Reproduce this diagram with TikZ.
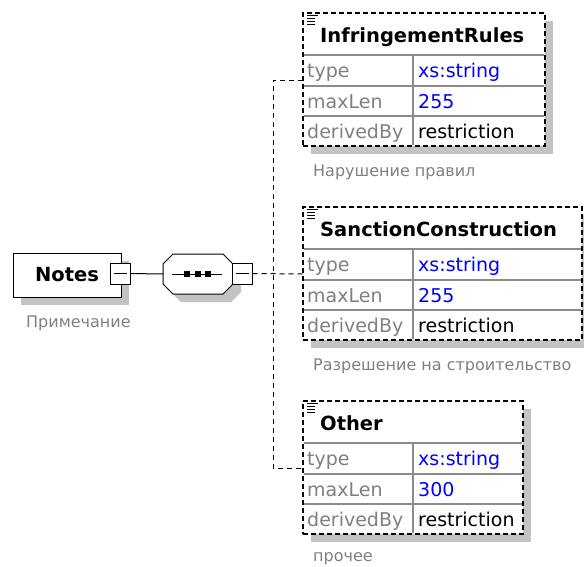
\documentclass[tikz,border=0pt]{standalone}
\usepackage{fontspec}
\setmainfont{DejaVu Sans}
\usepackage{xcolor}
\definecolor{grisTexto}{RGB}{128,128,128}
\definecolor{grisLinea}{RGB}{140,140,140}
\definecolor{grisSombra}{RGB}{195,195,195}
\definecolor{azulTipo}{RGB}{0,0,255}
\usepackage{tikz}
\usetikzlibrary{positioning}

\begin{document}
\begin{tikzpicture}[
  x=1pt, y=-1pt,
  raiz/.style={rectangle, draw=black, line width=1pt, fill=white, inner sep=0pt,
               minimum width=108pt, minimum height=44pt,
               font=\fontsize{19.5}{20}\selectfont\bfseries},
  elemento/.style={rectangle, draw=black, line width=1.1pt, dash pattern=on 5pt off 3pt,
                   fill=white, inner sep=0pt, outer sep=0pt, anchor=north west,
                   minimum height=133pt},
  secuencia/.style={rectangle, inner sep=0pt, minimum width=70pt, minimum height=40pt},
  octogono/.style={draw=black, line width=1pt, fill=white},
  menos/.style={rectangle, draw=black, line width=1pt, fill=white, inner sep=0pt,
                minimum width=20pt, minimum height=21pt},
  punto/.style={rectangle, fill=black, inner sep=0pt, minimum size=6pt},
  cabecera/.style={anchor=base west, inner sep=0pt,
                   font=\fontsize{19.5}{20}\selectfont\bfseries},
  clave/.style={anchor=base west, inner sep=0pt, text=grisTexto,
                font=\fontsize{19}{20}\selectfont},
  valor/.style={clave, text=azulTipo},
  valorN/.style={clave, text=black},
  nota/.style={anchor=base west, inner sep=0pt, text=grisTexto,
               font=\fontsize{16}{18}\selectfont},
  rejilla/.style={draw=grisLinea, line width=1.2pt},
  icono/.style={line width=1pt},
  sombra/.style={fill=grisSombra},
  enlace/.style={line width=1pt},
  conector/.style={line width=1pt, dash pattern=on 5pt off 4pt}
]
  \useasboundingbox (0,0) rectangle (584,566);

  % Elemento raiz
  \fill[sombra] (21,261) rectangle (129,305);
  \node[raiz] (notes) at (67,275) {Notes};
  \node[menos] (nm) at (120.5,273.5) {};
  \draw[enlace] ([xshift=4pt]nm.west) -- ([xshift=-4pt]nm.east);
  \node[nota] (notes-n) at (26,327) {Примечание};

  % Secuencia
  \fill[sombra] (181,262) -- (231,262) -- (241,272) -- (241,292) -- (231,302)
               -- (181,302) -- (171,292) -- (171,272) -- cycle;
  \node[secuencia] (seq) at (198,274) {};
  \draw[octogono] (173,254) -- (223,254) -- (233,264) -- (233,284) -- (223,294)
                 -- (173,294) -- (163,284) -- (163,264) -- cycle;
  \draw[enlace] ([xshift=9pt]seq.west) -- ([xshift=-11pt]seq.east);
  \node[punto] (p1) at (187,274) {};
  \node[punto] (p2) at (197.5,274) {};
  \node[punto] (p3) at (208,274) {};
  \node[menos] (sm) at (242,273.5) {};
  \draw[enlace] ([xshift=4pt]sm.west) -- ([xshift=-4pt]sm.east);
  \draw[enlace] (nm.east) -- (seq.west);

  % InfringementRules
  \fill[sombra] (311,21) rectangle (553,154);
  \node[elemento, minimum width=242pt] (ir) at (303,13) {};
  \draw[rejilla] (304,55) -- (544,55);
  \draw[rejilla] (304,86) -- (544,86);
  \draw[rejilla] (304,116) -- (544,116);
  \draw[rejilla] (413,56) -- (413,145);
  \draw[icono] (307,15) -- (318,15) (307,18.5) -- (315,18.5) (307,21.5) -- (315,21.5) (307,24.5) -- (315,24.5);
  \node[cabecera] (ir-h) at (320,42) {InfringementRules};
  \node[clave] (ir-k1) at (307,77) {type};
  \node[valor] (ir-v1) at (418,77) {xs:string};
  \node[clave] (ir-k2) at (307,108) {maxLen};
  \node[valor] (ir-v2) at (418,108) {255};
  \node[clave] (ir-k3) at (307,138) {derivedBy};
  \node[valorN] (ir-v3) at (418,138) {restriction};
  \node[nota] (ir-n) at (313,176) {Нарушение правил};

  % SanctionConstruction
  \fill[sombra] (311,215) rectangle (590,348);
  \node[elemento, minimum width=279pt] (sc) at (303,207) {};
  \draw[rejilla] (304,249) -- (581,249);
  \draw[rejilla] (304,280) -- (581,280);
  \draw[rejilla] (304,310) -- (581,310);
  \draw[rejilla] (413,250) -- (413,339);
  \draw[icono] (307,209) -- (318,209) (307,212.5) -- (315,212.5) (307,215.5) -- (315,215.5) (307,218.5) -- (315,218.5);
  \node[cabecera] (sc-h) at (320,236) {SanctionConstruction};
  \node[clave] (sc-k1) at (307,271) {type};
  \node[valor] (sc-v1) at (418,271) {xs:string};
  \node[clave] (sc-k2) at (307,302) {maxLen};
  \node[valor] (sc-v2) at (418,302) {255};
  \node[clave] (sc-k3) at (307,332) {derivedBy};
  \node[valorN] (sc-v3) at (418,332) {restriction};
  \node[nota] (sc-n) at (313,370) {Разрешение на строительство};

  % Other
  \fill[sombra] (311,409) rectangle (531,542);
  \node[elemento, minimum width=220pt] (ot) at (303,401) {};
  \draw[rejilla] (304,443) -- (522,443);
  \draw[rejilla] (304,474) -- (522,474);
  \draw[rejilla] (304,504) -- (522,504);
  \draw[rejilla] (413,444) -- (413,533);
  \draw[icono] (307,403) -- (318,403) (307,406.5) -- (315,406.5) (307,409.5) -- (315,409.5) (307,412.5) -- (315,412.5);
  \node[cabecera] (ot-h) at (320,430) {Other};
  \node[clave] (ot-k1) at (307,465) {type};
  \node[valor] (ot-v1) at (418,465) {xs:string};
  \node[clave] (ot-k2) at (307,496) {maxLen};
  \node[valor] (ot-v2) at (418,496) {300};
  \node[clave] (ot-k3) at (307,526) {derivedBy};
  \node[valorN] (ot-v3) at (418,526) {restriction};
  \node[nota] (ot-n) at (313,561) {прочее};

  % Conectores
  \coordinate (fork) at (273,274);
  \coordinate (ir-in) at (303,80);
  \coordinate (sc-in) at (303,274);
  \coordinate (ot-in) at (303,468);
  \draw[conector] (sm.east) -- (sc-in);
  \draw[conector] (ir-in) -| (fork) |- (ot-in);
\end{tikzpicture}
\end{document}
